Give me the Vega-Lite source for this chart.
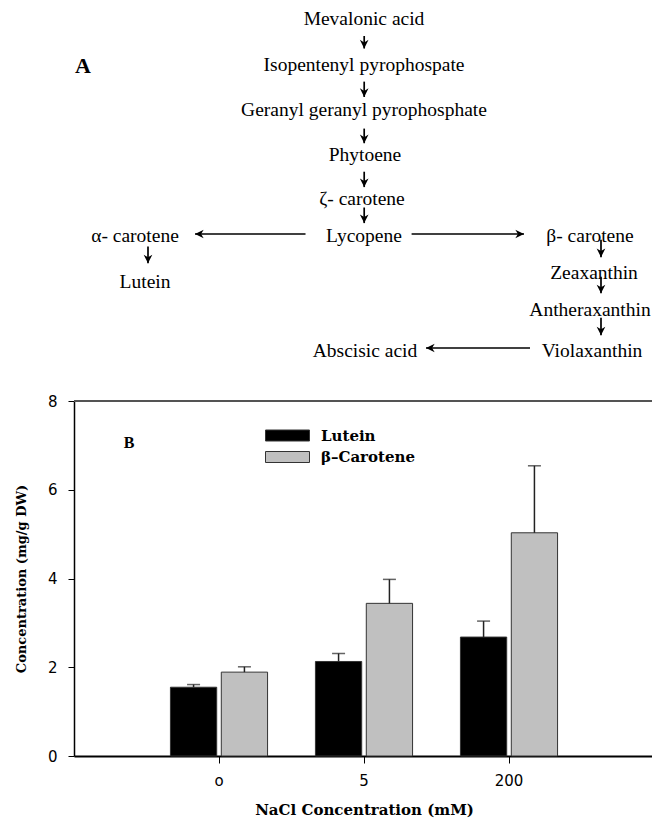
{
  "$schema": "https://vega.github.io/schema/vega-lite/v6.json",
  "background": "white",
  "padding": {"left": 15, "top": 0, "right": 0, "bottom": 6},
  "spacing": 16,
  "bounds": "flush",
  "config": {"view": {"stroke": null}, "axis": {"grid": false}},
  "vconcat": [
    {
      "width": 580,
      "height": 385,
      "layer": [
        {
          "data": {"values": [
            {"label": "Mevalonic acid", "x": 55.52, "y": 5.06},
            {"label": "Isopentenyl pyrophospate", "x": 55.52, "y": 16.88},
            {"label": "Geranyl geranyl pyrophosphate", "x": 55.52, "y": 28.70},
            {"label": "Phytoene", "x": 55.67, "y": 40.26},
            {"label": "ζ- carotene", "x": 55.21, "y": 51.69},
            {"label": "Lycopene", "x": 55.52, "y": 61.17},
            {"label": "α- carotene", "x": 20.40, "y": 61.17},
            {"label": "Lutein", "x": 21.93, "y": 73.25},
            {"label": "β- carotene", "x": 90.18, "y": 61.17},
            {"label": "Zeaxanthin", "x": 90.80, "y": 70.78},
            {"label": "Antheraxanthin", "x": 90.18, "y": 80.52},
            {"label": "Violaxanthin", "x": 90.49, "y": 91.04},
            {"label": "Abscisic acid", "x": 55.67, "y": 91.17}
          ]},
          "mark": {"type": "text", "font": "Liberation Serif", "fontSize": 19.5, "baseline": "middle", "align": "center", "color": "#000"},
          "encoding": {
            "x": {"field": "x", "type": "quantitative", "scale": {"domain": [11.04, 100], "nice": false, "zero": false}, "axis": null},
            "y": {"field": "y", "type": "quantitative", "scale": {"domain": [0, 100], "nice": false, "zero": false, "reverse": true}, "axis": null},
            "text": {"field": "label"}
          }
        },
        {
          "data": {"values": [{"label": "A", "x": 12.42, "y": 17.14}]},
          "mark": {"type": "text", "font": "Liberation Serif", "fontWeight": "bold", "fontSize": 22, "baseline": "middle", "align": "center", "color": "#000"},
          "encoding": {
            "x": {"field": "x", "type": "quantitative", "axis": null},
            "y": {"field": "y", "type": "quantitative", "axis": null},
            "text": {"field": "label"}
          }
        },
        {
          "data": {"name": "arrows", "values": [
            {"x1": 55.55, "y1": 9.35, "x2": 55.55, "y2": 12.6, "dir": "down"},
            {"x1": 55.55, "y1": 21.2, "x2": 55.55, "y2": 25.2, "dir": "down"},
            {"x1": 55.55, "y1": 33.4, "x2": 55.55, "y2": 37.2, "dir": "down"},
            {"x1": 55.55, "y1": 44.6, "x2": 55.55, "y2": 48.6, "dir": "down"},
            {"x1": 55.55, "y1": 53.9, "x2": 55.55, "y2": 57.95, "dir": "down"},
            {"x1": 46.55, "y1": 60.78, "x2": 29.60, "y2": 60.78, "dir": "left"},
            {"x1": 62.82, "y1": 60.78, "x2": 80.06, "y2": 60.78, "dir": "right"},
            {"x1": 22.39, "y1": 64.0, "x2": 22.39, "y2": 68.4, "dir": "down"},
            {"x1": 91.87, "y1": 62.3, "x2": 91.87, "y2": 66.8, "dir": "down"},
            {"x1": 91.87, "y1": 71.9, "x2": 91.87, "y2": 76.2, "dir": "down"},
            {"x1": 91.87, "y1": 82.5, "x2": 91.87, "y2": 87.1, "dir": "down"},
            {"x1": 80.98, "y1": 90.39, "x2": 65.03, "y2": 90.39, "dir": "left"}
          ]},
          "mark": {"type": "rule", "color": "#000", "strokeWidth": 1.7},
          "encoding": {
            "x": {"field": "x1", "type": "quantitative", "axis": null},
            "y": {"field": "y1", "type": "quantitative", "axis": null},
            "x2": {"field": "x2"},
            "y2": {"field": "y2"}
          }
        },
        {
          "data": {"name": "arrows"},
          "mark": {"type": "point", "filled": true, "color": "#000", "opacity": 1, "size": 300},
          "encoding": {
            "x": {"field": "x2", "type": "quantitative", "axis": null},
            "y": {"field": "y2", "type": "quantitative", "axis": null},
            "shape": {"field": "dir", "type": "nominal", "legend": null, "scale": {"domain": ["right", "down", "left"], "range": ["M0,0L-1,-0.5L-0.7,0L-1,0.5Z", "M0,0L-0.5,-1L0,-0.7L0.5,-1Z", "M0,0L1,-0.5L0.7,0L1,0.5Z"]}}
          }
        }
      ]
    },
    {
      "width": 580,
      "height": 355,
      "data": {"values": [
        {"nacl": "o", "series": "Lutein", "value": 1.55, "upper": 1.61},
        {"nacl": "o", "series": "β–Carotene", "value": 1.89, "upper": 2.01},
        {"nacl": "5", "series": "Lutein", "value": 2.13, "upper": 2.31},
        {"nacl": "5", "series": "β–Carotene", "value": 3.44, "upper": 3.98},
        {"nacl": "200", "series": "Lutein", "value": 2.68, "upper": 3.04},
        {"nacl": "200", "series": "β–Carotene", "value": 5.03, "upper": 6.54}
      ]},
      "layer": [
        {
          "mark": {"type": "bar", "stroke": "#333", "strokeWidth": 1},
          "encoding": {
            "x": {
              "field": "nacl", "type": "nominal", "sort": ["o", "5", "200"],
              "scale": {"domain": ["o", "5", "200"], "paddingInner": 0.33, "paddingOuter": 0.665},
              "title": "NaCl Concentration (mM)",
              "axis": {"labelAngle": 0, "tickSize": 7, "tickColor": "#000", "domainColor": "#000", "domainWidth": 2, "labelFont": "DejaVu Sans", "labelFontSize": 15, "labelColor": "#000", "labelPadding": 10, "titleFont": "DejaVu Serif", "titleFontWeight": "bold", "titleFontSize": 15, "titleColor": "#000", "titlePadding": 14}
            },
            "xOffset": {"field": "series", "type": "nominal", "sort": ["Lutein", "β–Carotene"], "scale": {"paddingInner": 0.09}},
            "y": {
              "field": "value", "type": "quantitative",
              "scale": {"domain": [0, 8], "nice": false},
              "title": "Concentration (mg/g DW)",
              "axis": {"values": [0, 2, 4, 6, 8], "tickSize": 6, "tickColor": "#000", "domainColor": "#000", "domainWidth": 1.5, "labelFont": "DejaVu Sans", "labelFontSize": 15, "labelColor": "#000", "labelPadding": 11, "titleFont": "DejaVu Serif", "titleFontWeight": "bold", "titleFontSize": 13, "titleColor": "#000", "titlePadding": 19}
            },
            "color": {
              "field": "series", "type": "nominal",
              "scale": {"domain": ["Lutein", "β–Carotene"], "range": ["#000000", "#c0c0c0"]},
              "legend": {"title": null, "orient": "none", "legendX": 202, "legendY": 424, "padding": 0, "symbolType": "M-2,-0.5H2V0.5H-2Z", "symbolSize": 484, "symbolStrokeColor": "#333", "symbolStrokeWidth": 1, "symbolOpacity": 1, "labelFont": "DejaVu Serif", "labelFontWeight": "bold", "labelFontSize": 15, "labelColor": "#000", "labelOffset": 22, "rowPadding": 1.5}
            }
          }
        },
        {
          "mark": {"type": "rule", "color": "#222", "strokeWidth": 1.5},
          "encoding": {
            "x": {"field": "nacl", "type": "nominal", "sort": ["o", "5", "200"]},
            "xOffset": {"field": "series", "type": "nominal", "sort": ["Lutein", "β–Carotene"]},
            "y": {"field": "value", "type": "quantitative"},
            "y2": {"field": "upper"}
          }
        },
        {
          "mark": {"type": "tick", "color": "#222", "thickness": 1.5, "size": 13},
          "encoding": {
            "x": {"field": "nacl", "type": "nominal", "sort": ["o", "5", "200"]},
            "xOffset": {"field": "series", "type": "nominal", "sort": ["Lutein", "β–Carotene"]},
            "y": {"field": "upper", "type": "quantitative"}
          }
        },
        {
          "data": {"values": [{"label": "B", "nacl": "o", "level": 7.06}]},
          "mark": {"type": "text", "font": "Liberation Serif", "fontWeight": "bold", "fontSize": 16, "dx": -90, "baseline": "middle", "align": "center", "color": "#000"},
          "encoding": {
            "x": {"field": "nacl", "type": "nominal", "sort": ["o", "5", "200"]},
            "y": {"field": "level", "type": "quantitative"},
            "text": {"field": "label"}
          }
        },
        {
          "mark": {"type": "rule", "color": "#555", "strokeWidth": 1.5},
          "encoding": {"y": {"datum": 8}}
        }
      ]
    }
  ]
}
